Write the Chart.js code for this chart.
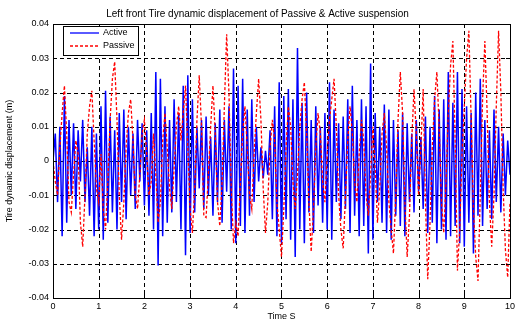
<!DOCTYPE html>
<html>
<head>
<meta charset="utf-8">
<script src="https://cdn.jsdelivr.net/npm/chart.js@4.4.1/dist/chart.umd.min.js"></script>
<style>
  html, body { margin: 0; padding: 0; background: #fff; }
  #wrap { width: 518px; height: 327px; }
</style>
</head>
<body>
<div id="wrap"><canvas id="tireChart" width="518" height="327"></canvas></div>
<script>
// sample step of the simulation (s)
const timeStep = 0.05;
const xTicks = [0, 1, 2, 3, 4, 5, 6, 7, 8, 9, 10];
const yTicks = [0.04, 0.03, 0.02, 0.01, 0, -0.01, -0.02, -0.03, -0.04];

// Active suspension, one value per 0.05 s
const activeDisp = [
  0.000, 0.008, -0.012, 0.010, -0.022, 0.019, -0.018, 0.012, -0.010, 0.011,
  -0.014, 0.009, -0.006, 0.012, -0.012, 0.004, -0.016, 0.010, -0.022, 0.008,
  -0.020, 0.016, -0.023, 0.0205, -0.018, 0.013, -0.015, 0.009, -0.020, 0.014,
  -0.012, 0.015, -0.017, 0.010, -0.010, 0.008, -0.014, 0.012, -0.006, 0.011,
  -0.013, 0.009, -0.016, 0.014, -0.020, 0.026, -0.0305, 0.024, -0.022, 0.016,
  -0.018, 0.012, -0.015, 0.018, -0.012, 0.014, -0.020, 0.022, -0.0275, 0.025,
  -0.021, 0.018, -0.015, 0.010, -0.008, 0.012, -0.014, 0.013, -0.010, 0.007,
  -0.016, 0.011, -0.012, 0.015, -0.018, 0.012, -0.009, 0.016, -0.020, 0.027,
  -0.024, 0.022, -0.019, 0.024, -0.021, 0.015, -0.016, 0.018, -0.012, 0.010,
  -0.006, 0.004, -0.005, 0.003, -0.004, 0.009, -0.017, 0.016, -0.022, 0.023,
  -0.024, 0.019, -0.017, 0.021, -0.023, 0.018, -0.028, 0.033, -0.020, 0.017,
  -0.024, 0.020, -0.015, 0.012, -0.021, 0.016, -0.013, 0.010, -0.018, 0.014,
  -0.020, 0.023, -0.023, 0.015, -0.012, 0.011, -0.017, 0.013, -0.014, 0.018,
  -0.021, 0.022, -0.016, 0.012, -0.022, 0.018, -0.019, 0.016, -0.027, 0.0285,
  -0.023, 0.014, -0.012, 0.010, -0.018, 0.0165, -0.021, 0.015, -0.023, 0.012,
  -0.016, 0.009, -0.019, 0.014, -0.022, 0.011, -0.012, 0.008, -0.015, 0.012,
  -0.009, 0.007, -0.014, 0.013, -0.021, 0.010, -0.018, 0.019, -0.024, 0.015,
  -0.020, 0.018, -0.023, 0.026, -0.022, 0.017, -0.019, 0.026, -0.024, 0.021,
  -0.025, 0.016, -0.018, 0.014, -0.027, 0.020, -0.016, 0.024, -0.019, 0.012,
  -0.014, 0.009, -0.017, 0.015, -0.012, 0.010, -0.015, 0.008, -0.010, 0.006,
  -0.004
];

// Passive suspension, one value per 0.05 s
const passiveDisp = [
  0.000, -0.006, -0.010, 0.004, 0.014, 0.022, 0.008, -0.012, -0.015, -0.004,
  0.006, 0.002, -0.018, -0.025, -0.010, 0.008, 0.016, 0.0205, 0.006, -0.008,
  -0.012, 0.002, -0.014, -0.020, -0.006, 0.012, 0.024, 0.029, 0.012, -0.010,
  -0.023, -0.012, 0.004, 0.014, 0.018, 0.006, -0.010, -0.014, -0.004, 0.008,
  0.012, 0.002, -0.010, -0.006, 0.008, -0.004, -0.018, -0.012, 0.006, 0.014,
  0.004, -0.008, -0.014, -0.002, 0.010, 0.016, 0.006, 0.014, 0.022, 0.004,
  -0.014, -0.021, -0.008, 0.012, 0.025, 0.010, -0.016, -0.0165, -0.004, 0.010,
  0.022, 0.008, -0.012, -0.019, -0.006, 0.016, 0.037, 0.020, -0.008, -0.024,
  -0.018, -0.022, -0.006, 0.008, 0.016, 0.004, -0.010, -0.014, 0.002, 0.014,
  0.024, 0.012, -0.008, -0.021, -0.012, 0.004, 0.012, 0.006, -0.012, -0.020,
  -0.028, -0.014, 0.004, 0.016, 0.010, -0.006, -0.014, -0.004, 0.010, 0.018,
  0.023, 0.008, -0.012, -0.0265, -0.014, 0.004, 0.014, 0.008, -0.006, -0.012,
  0.002, 0.012, 0.018, 0.024, 0.010, -0.010, -0.020, -0.0255, -0.010, 0.006,
  0.016, 0.008, -0.006, -0.012, 0.002, 0.012, 0.006, -0.010, -0.016, -0.004,
  0.010, -0.002, -0.018, -0.008, 0.008, 0.014, 0.004, -0.012, -0.020, -0.027,
  -0.010, 0.012, 0.026, 0.014, -0.012, -0.028, -0.016, 0.006, 0.021, 0.008,
  -0.010, 0.004, 0.021, -0.012, -0.0345, -0.018, 0.004, 0.018, 0.026, 0.010,
  -0.012, -0.021, -0.006, 0.014, 0.028, 0.035, 0.006, -0.032, -0.020, 0.002,
  0.016, 0.030, 0.038, 0.012, -0.014, -0.028, -0.035, -0.010, 0.018, 0.035,
  0.014, -0.012, -0.025, -0.010, 0.016, 0.038, 0.020, -0.008, -0.026, -0.034,
  -0.012
];

const toPoints = (arr) => arr.map((v, i) => ({ x: +(i * timeStep).toFixed(2), y: v }));

const fontFamily = "'Liberation Sans', Arial, sans-serif";

// dashed black grid like matlab's "grid on"
const matlabGrid = {
  id: "matlabGrid",
  beforeDatasetsDraw(chart) {
    const { ctx, chartArea: a, scales } = chart;
    ctx.save();
    ctx.strokeStyle = "#000";
    ctx.lineWidth = 1;
    ctx.setLineDash([4, 3]);
    ctx.beginPath();
    xTicks.slice(1, -1).forEach(t => {
      const x = Math.round(scales.x.getPixelForValue(t)) + 0.5;
      ctx.moveTo(x, a.top); ctx.lineTo(x, a.bottom);
    });
    yTicks.slice(1, -1).forEach(t => {
      const y = Math.round(scales.y.getPixelForValue(t)) + 0.5;
      ctx.moveTo(a.left, y); ctx.lineTo(a.right, y);
    });
    ctx.stroke();
    ctx.restore();
  }
};

// frame, inward tick marks and the boxed legend
const matlabFrame = {
  id: "matlabFrame",
  afterDatasetsDraw(chart) {
    const { ctx, chartArea: a, scales } = chart;
    ctx.save();
    ctx.strokeStyle = "#000";
    ctx.lineWidth = 1;
    ctx.setLineDash([]);
    ctx.beginPath();
    xTicks.forEach(t => {
      const x = Math.round(scales.x.getPixelForValue(t)) + 0.5;
      ctx.moveTo(x, a.bottom); ctx.lineTo(x, a.bottom - 4);
      ctx.moveTo(x, a.top); ctx.lineTo(x, a.top + 4);
    });
    yTicks.forEach(t => {
      const y = Math.round(scales.y.getPixelForValue(t)) + 0.5;
      ctx.moveTo(a.left, y); ctx.lineTo(a.left + 4, y);
      ctx.moveTo(a.right, y); ctx.lineTo(a.right - 4, y);
    });
    ctx.stroke();
    ctx.strokeRect(Math.round(a.left) + 0.5, Math.round(a.top) + 0.5,
      Math.round(a.right - a.left), Math.round(a.bottom - a.top));

    // legend
    const lx = 63, ly = 26, lw = 75, lh = 29;
    ctx.fillStyle = "#fff";
    ctx.fillRect(lx, ly, lw, lh);
    ctx.strokeRect(lx + 0.5, ly + 0.5, lw, lh);
    ctx.font = "9px " + fontFamily;
    ctx.textBaseline = "middle";
    chart.data.datasets.forEach((ds, i) => {
      const y = ly + 7 + i * 13;
      ctx.strokeStyle = ds.borderColor;
      ctx.lineWidth = 1.3;
      ctx.setLineDash(ds.borderDash || []);
      ctx.beginPath();
      ctx.moveTo(lx + 7, y); ctx.lineTo(lx + 36, y);
      ctx.stroke();
      ctx.fillStyle = "#000";
      ctx.fillText(ds.label, lx + 40, y);
    });
    ctx.restore();
  }
};

new Chart(document.getElementById("tireChart"), {
  type: "line",
  data: {
    datasets: [
      {
        label: "Active",
        data: toPoints(activeDisp),
        borderColor: "#0000ff",
        borderWidth: 1.5,
        pointRadius: 0,
        tension: 0,
        order: 1
      },
      {
        label: "Passive",
        data: toPoints(passiveDisp),
        borderColor: "#ff0000",
        borderWidth: 1.3,
        borderDash: [3, 2],
        pointRadius: 0,
        tension: 0,
        order: 0
      }
    ]
  },
  options: {
    responsive: false,
    animation: false,
    devicePixelRatio: 1,
    layout: { padding: { left: 0, right: 3, top: 0, bottom: 0 } },
    plugins: {
      legend: { display: false },
      tooltip: { enabled: false },
      title: {
        display: true,
        text: "Left front Tire dynamic displacement of Passive & Active suspension",
        color: "#000",
        font: { family: fontFamily, size: 10, weight: "normal" },
        padding: { top: 8, bottom: 4 }
      }
    },
    scales: {
      x: {
        type: "linear",
        min: 0,
        max: 10,
        afterFit: s => { s.height = 29; },
        afterBuildTicks: s => { s.ticks = xTicks.map(v => ({ value: v })); },
        ticks: { color: "#000", font: { family: fontFamily, size: 9 }, padding: 3, maxRotation: 0 },
        grid: { display: false, drawTicks: false },
        border: { display: false },
        title: {
          display: true,
          text: "Time S",
          color: "#000",
          font: { family: fontFamily, size: 9 },
          padding: { top: 0, bottom: 5 }
        }
      },
      y: {
        min: -0.04,
        max: 0.04,
        afterFit: s => { s.width = 53; },
        afterBuildTicks: s => { s.ticks = yTicks.map(v => ({ value: v })); },
        ticks: {
          color: "#000",
          font: { family: fontFamily, size: 9 },
          padding: 4,
          callback: v => Math.abs(v) < 1e-9 ? "0" : v.toFixed(2)
        },
        grid: { display: false, drawTicks: false },
        border: { display: false },
        title: {
          display: true,
          text: "Tire dynamic displacement (m)",
          color: "#000",
          font: { family: fontFamily, size: 9 },
          padding: { top: 4, bottom: 0 }
        }
      }
    }
  },
  plugins: [matlabGrid, matlabFrame]
});
</script>
</body>
</html>
